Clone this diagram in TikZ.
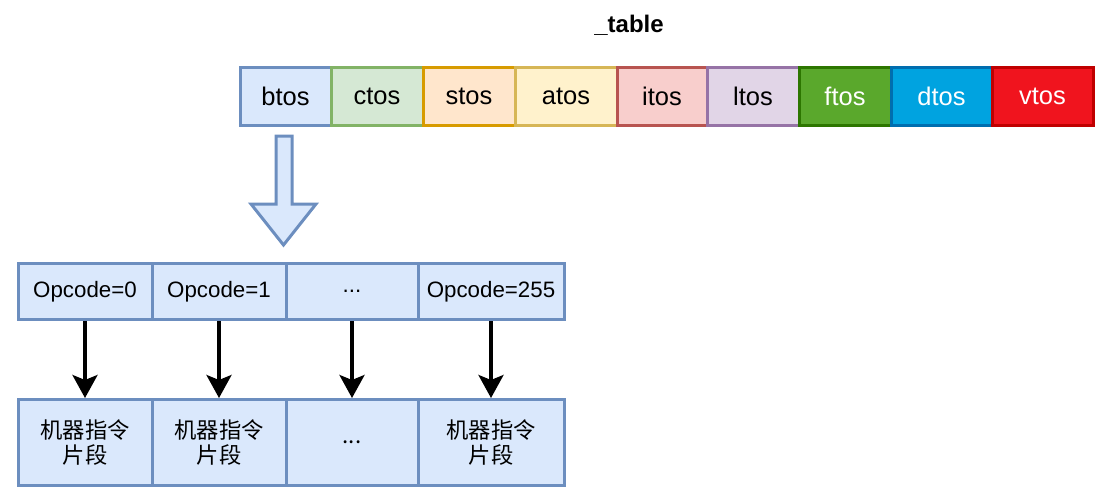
\documentclass[tikz,border=0pt]{standalone}
\usepackage{fontspec}
\setmainfont{Liberation Sans}
\newfontfamily\cjk{Noto Sans CJK SC}
\usepackage{tikz}
\usetikzlibrary{arrows.meta}

\definecolor{bfill}{HTML}{DAE8FC}\definecolor{bline}{HTML}{6C8EBF}
\definecolor{cfill}{HTML}{D5E8D4}\definecolor{cline}{HTML}{82B366}
\definecolor{sfill}{HTML}{FFE6CC}\definecolor{sline}{HTML}{D79B00}
\definecolor{afill}{HTML}{FFF2CC}\definecolor{aline}{HTML}{D6B656}
\definecolor{ifill}{HTML}{F8CECC}\definecolor{iline}{HTML}{B85450}
\definecolor{lfill}{HTML}{E1D5E7}\definecolor{lline}{HTML}{9673A6}
\definecolor{ffill}{HTML}{5AA82C}\definecolor{fline}{HTML}{2D7600}
\definecolor{dfill}{HTML}{00A3E0}\definecolor{dline}{HTML}{006EAF}
\definecolor{vfill}{HTML}{F0141E}\definecolor{vline}{HTML}{C00000}

\newcommand\tdots{...}

\tikzset{
  tcell/.style={draw,line width=3pt,minimum height=58pt,inner sep=0pt,
    font=\fontsize{25.5}{28}\selectfont},
  ocell/.style={draw=bline,fill=bfill,line width=3pt,inner sep=0pt,
    font=\fontsize{22.3}{25}\selectfont},
  mcell/.style={ocell,minimum height=86pt,align=center,
    font=\fontsize{22.3}{25}\selectfont\cjk},
  jump/.style={line width=3.5pt,-{Stealth[length=23pt,width=25pt,inset=5pt]}}
}

\begin{document}
\begin{tikzpicture}[x=1pt,y=-1pt]
  \useasboundingbox (0,0) rectangle (1105,501);
  \node[font=\fontsize{24}{28}\selectfont\bfseries] (title) at (629,25) {\_table};
  % the _table row
  \node[tcell,fill=bfill,draw=bline,minimum width=91pt] (btos) at (285.5,96) {btos};
  \node[tcell,fill=cfill,draw=cline,minimum width=92pt] (ctos) at (377,96) {ctos};
  \node[tcell,fill=sfill,draw=sline,minimum width=92pt] (stos) at (469,96) {stos};
  \node[tcell,fill=afill,draw=aline,minimum width=102pt] (atos) at (566,96) {atos};
  \node[tcell,fill=ifill,draw=iline,minimum width=90pt] (itos) at (662,96) {itos};
  \node[tcell,fill=lfill,draw=lline,minimum width=92pt] (ltos) at (753,96) {ltos};
  \node[tcell,fill=ffill,draw=fline,minimum width=92pt,text=white] (ftos) at (845,96) {ftos};
  \node[tcell,fill=dfill,draw=dline,minimum width=101pt,text=white] (dtos) at (941.5,96) {dtos};
  \node[tcell,fill=vfill,draw=vline,minimum width=101pt,text=white] (vtos) at (1042.5,96) {vtos};
  % big arrow below btos
  \draw[draw=bline,fill=bfill,line width=3pt,line join=miter]
    (276,136) -- (292,136) -- (292,204) -- (316,204) -- (283.5,245)
    -- (251,204) -- (276,204) -- cycle;
  % opcode row
  \foreach \n/\cx/\w/\t in {0/85/134/Opcode=0,1/219/134/Opcode=1,2/352/132/\tdots,3/491/146/Opcode=255}{
    \node[ocell,minimum width=\w pt,minimum height=56pt] (op\n) at (\cx,291.5) {\t};
  }
  % machine code row
  \node[mcell,minimum width=134pt] (mc0) at (85,442.5) {机器指令\\片段};
  \node[mcell,minimum width=134pt] (mc1) at (219,442.5) {机器指令\\片段};
  \node[mcell,minimum width=132pt] (mc2) at (352,442.5) {...};
  \node[mcell,minimum width=146pt] (mc3) at (491,442.5) {机器指令\\片段};
  \foreach \n in {0,1,2,3}{
    \draw[jump] (op\n) -- (mc\n);
  }
\end{tikzpicture}
\end{document}
